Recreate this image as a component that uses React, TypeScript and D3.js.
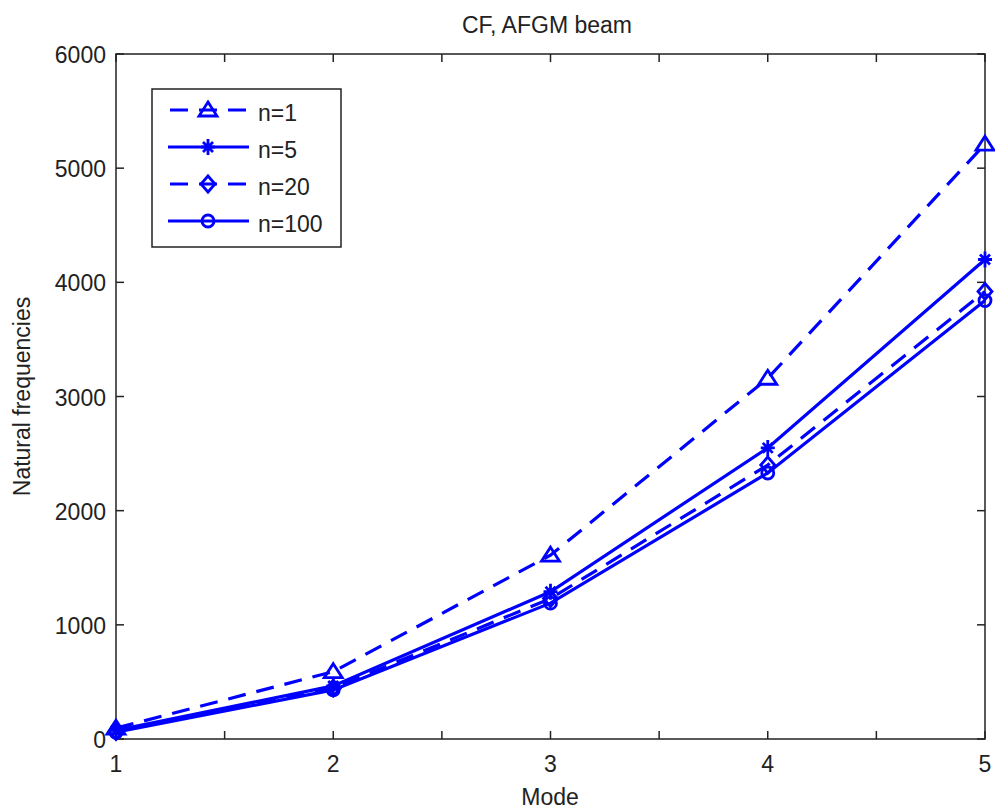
import * as d3 from 'd3'
import React, { useEffect, useRef } from 'react'

const modes = [1, 2, 3, 4, 5]
const seriesNames = ['n=1', 'n=5', 'n=20', 'n=100']
const n1 = [95, 590, 1610, 3160, 5210]
const n5 = [75, 465, 1290, 2550, 4200]
const n20 = [65, 445, 1230, 2400, 3920]
const n100 = [60, 430, 1190, 2330, 3840]
const markers = ['triangle', 'star', 'diamond', 'circle']
const dashed = [true, false, true, false]
const xTicks = [1, 1.5, 2, 2.5, 3, 3.5, 4, 4.5, 5]
const yTicks = [0, 1000, 2000, 3000, 4000, 5000, 6000]

export default function App() {
  const sandbox = useRef<SVGSVGElement>(null)

  useEffect(() => {
    const svg = d3.select(sandbox.current)
    svg.selectAll('*').remove()

    const margin = { left: 116, right: 10, top: 54, bottom: 71 }
    const width = 995
    const height = 810
    const blue = '#0000ff'
    const font = 'Liberation Sans, Arial, sans-serif'
    const fs = 23

    const x = d3.scaleLinear().domain([1, 5]).range([margin.left, width - margin.right])
    const y = d3.scaleLinear().domain([0, 6000]).range([height - margin.bottom, margin.top])

    svg.append('rect').attr('width', width).attr('height', height).attr('fill', 'white')

    const g = svg.append('g')

    //axis box
    g.append('rect')
      .attr('x', x(1))
      .attr('y', y(6000))
      .attr('width', x(5) - x(1))
      .attr('height', y(0) - y(6000))
      .attr('fill', 'none')
      .attr('stroke', '#222')
      .attr('stroke-width', 1.5)

    const tickLen = 8
    //x ticks (bottom & top)
    xTicks.forEach(t => {
      g.append('line')
        .attr('x1', x(t)).attr('x2', x(t))
        .attr('y1', y(0)).attr('y2', y(0) - tickLen)
        .attr('stroke', '#222').attr('stroke-width', 1.5)
      g.append('line')
        .attr('x1', x(t)).attr('x2', x(t))
        .attr('y1', y(6000)).attr('y2', y(6000) + tickLen)
        .attr('stroke', '#222').attr('stroke-width', 1.5)
      if (Number.isInteger(t)) {
        g.append('text')
          .attr('x', x(t))
          .attr('y', 772)
          .attr('text-anchor', 'middle')
          .attr('font-family', font)
          .attr('font-size', fs)
          .attr('fill', '#222')
          .text(String(t))
      }
    })

    //y ticks (left & right)
    yTicks.forEach(t => {
      g.append('line')
        .attr('x1', x(1)).attr('x2', x(1) + tickLen)
        .attr('y1', y(t)).attr('y2', y(t))
        .attr('stroke', '#222').attr('stroke-width', 1.5)
      g.append('line')
        .attr('x1', x(5)).attr('x2', x(5) - tickLen)
        .attr('y1', y(t)).attr('y2', y(t))
        .attr('stroke', '#222').attr('stroke-width', 1.5)
      g.append('text')
        .attr('x', x(1) - 10)
        .attr('y', y(t) + 9)
        .attr('text-anchor', 'end')
        .attr('font-family', font)
        .attr('font-size', fs)
        .attr('fill', '#222')
        .text(String(t))
    })

    //title & labels
    g.append('text')
      .attr('x', 547).attr('y', 33)
      .attr('text-anchor', 'middle')
      .attr('font-family', font).attr('font-size', fs).attr('fill', '#222')
      .text('CF, AFGM beam')
    g.append('text')
      .attr('x', 550).attr('y', 805)
      .attr('text-anchor', 'middle')
      .attr('font-family', font).attr('font-size', fs).attr('fill', '#222')
      .text('Mode')
    g.append('text')
      .attr('transform', `translate(30,${(y(0) + y(6000)) / 2}) rotate(-90)`)
      .attr('text-anchor', 'middle')
      .attr('font-family', font).attr('font-size', fs).attr('fill', '#222')
      .text('Natural frequencies')

    const drawMarker = (sel: any, type: string, cx: number, cy: number) => {
      const m = sel.append('g').attr('transform', `translate(${cx},${cy})`)
      const st = (e: any) => e.attr('fill', 'none').attr('stroke', blue).attr('stroke-width', 2.8)
      if (type === 'triangle') {
        st(m.append('path').attr('d', 'M0,-8 L9,6 L-9,6 Z'))
      } else if (type === 'circle') {
        st(m.append('circle').attr('r', 6))
      } else if (type === 'diamond') {
        st(m.append('path').attr('d', 'M0,-8 L7,0 L0,8 L-7,0 Z'))
      } else {
        st(m.append('path').attr('d', 'M-7,0 H7 M0,-8 V8 M-5,-5 L5,5 M-5,5 L5,-5'))
      }
    }

    const data = [n1, n5, n20, n100]
    const line = d3.line<number>().x((d, i) => x(modes[i])).y(d => y(d))

    data.forEach((vals, k) => {
      g.append('path')
        .attr('d', line(vals))
        .attr('fill', 'none')
        .attr('stroke', blue)
        .attr('stroke-width', 3.2)
        .attr('stroke-dasharray', dashed[k] ? '18,11' : null)
      vals.forEach((v, i) => drawMarker(g, markers[k], x(modes[i]), y(v)))
    })

    //legend
    const lg = g.append('g')
    lg.append('rect')
      .attr('x', 152).attr('y', 89)
      .attr('width', 189).attr('height', 158)
      .attr('fill', 'white')
      .attr('stroke', '#222').attr('stroke-width', 1.5)
    seriesNames.forEach((name, k) => {
      const ly = 110 + k * 37
      lg.append('line')
        .attr('x1', 168).attr('x2', 249)
        .attr('y1', ly).attr('y2', ly)
        .attr('stroke', blue).attr('stroke-width', 3.2)
        .attr('stroke-dasharray', dashed[k] ? '18,11' : null)
        .attr('stroke-dashoffset', dashed[k] ? -2 : null)
      drawMarker(lg, markers[k], 208, ly)
      lg.append('text')
        .attr('x', 258).attr('y', ly + 11)
        .attr('font-family', font).attr('font-size', fs).attr('fill', '#222')
        .text(name)
    })
  }, [sandbox])

  return <svg ref={sandbox} width="995" height="810" style={{ display: 'block', position: 'absolute', left: 0, top: 0 }} />
}
